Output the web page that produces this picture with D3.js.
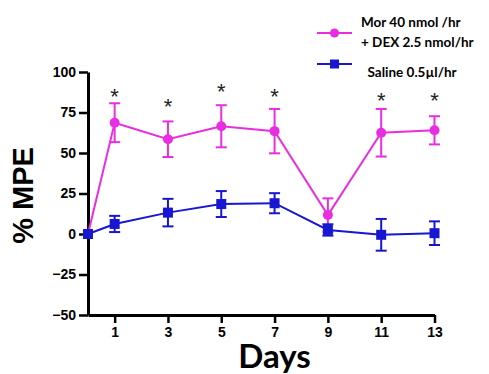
<!DOCTYPE html>
<html>
<head>
<meta charset="utf-8">
<script src="https://cdn.jsdelivr.net/npm/d3@7"></script>
<style>
  html, body { margin: 0; padding: 0; background: #fff; }
  svg { display: block; }
</style>
</head>
<body>
<svg id="chart" width="489" height="374"></svg>
<script>
// ---- data ----
const days = [0, 1, 3, 5, 7, 9, 11, 13];
const morDexMean = [0, 68.7, 58.5, 66.5, 63.5, 11.7, 62.5, 64];
const morDexErr  = [0, 12, 11, 13, 13.7, 10.3, 14.7, 8.7];
const salineMean = [0, 6.2, 13.2, 18.5, 19, 2.5, -0.5, 0.5];
const salineErr  = [0, 5, 8.5, 8, 6.2, 3.5, 9.8, 7.3];
const sigDays    = [1, 3, 5, 7, 11, 13];
const sigLevels  = [87.8, 81.7, 90.9, 87.8, 85.2, 85.2];
const xTicks = [1, 3, 5, 7, 9, 11, 13];
const yTicks = [-50, -25, 0, 25, 50, 75, 100];
const legendLabels = [["Mor 40 nmol /hr", "+ DEX 2.5 nmol/hr"], ["Saline 0.5\u00b5l/hr"]];

const magenta = "#e82ee0";
const blue = "#1717d2";

const svg = d3.select("#chart");
const x = d3.scaleLinear().domain([0, 13]).range([88, 434.5]);
const y = d3.scaleLinear().domain([-50, 100]).range([315, 72]);

// axes
const yAxis = svg.append("g").attr("transform", `translate(${x(0)},0)`)
  .call(d3.axisLeft(y).tickValues(yTicks).tickSize(9).tickSizeOuter(0).tickPadding(3));
const xAxis = svg.append("g").attr("transform", `translate(0,${y(-50)})`)
  .call(d3.axisBottom(x).tickValues(xTicks).tickSize(8).tickSizeOuter(0).tickPadding(4));
[xAxis, yAxis].forEach(g => {
  g.select(".domain").attr("stroke", "#000").attr("stroke-width", 3);
  g.selectAll(".tick line").attr("stroke", "#000").attr("stroke-width", 2.5);
  g.selectAll(".tick text").attr("fill", "#000")
    .style("font-family", "'Liberation Sans', Arial, sans-serif")
    .style("font-weight", "bold").style("font-size", "14px");
});

// axis titles
svg.append("text")
  .attr("transform", `translate(33,${(y(100) + y(-50)) / 2 + 2}) rotate(-90)`)
  .attr("text-anchor", "middle")
  .style("font-family", "'Liberation Sans', Arial, sans-serif")
  .style("font-weight", "bold").style("font-size", "29px")
  .text("% MPE");
svg.append("text")
  .attr("x", x(7)).attr("y", 367.5)
  .attr("text-anchor", "middle")
  .style("font-family", "Lato, 'Open Sans', sans-serif")
  .style("font-weight", "bold").style("font-size", "33px")
  .text("Days");

function drawSeries(mean, err, color, shape) {
  const pts = days.map((d, i) => ({ d, m: mean[i], e: err[i] }));
  const g = svg.append("g");
  const bars = pts.filter(p => p.e > 0);
  g.selectAll("line.v").data(bars).join("line")
    .attr("x1", p => x(p.d)).attr("x2", p => x(p.d))
    .attr("y1", p => y(p.m - p.e)).attr("y2", p => y(p.m + p.e))
    .attr("stroke", color).attr("stroke-width", 2);
  ["top", "bot"].forEach(k => {
    g.selectAll("line." + k).data(bars).join("line")
      .attr("x1", p => x(p.d) - 5.5).attr("x2", p => x(p.d) + 5.5)
      .attr("y1", p => y(k === "top" ? p.m + p.e : p.m - p.e))
      .attr("y2", p => y(k === "top" ? p.m + p.e : p.m - p.e))
      .attr("stroke", color).attr("stroke-width", 2);
  });
  g.append("path").datum(pts)
    .attr("d", d3.line().x(p => x(p.d)).y(p => y(p.m)))
    .attr("fill", "none").attr("stroke", color).attr("stroke-width", 2);
  if (shape === "circle") {
    g.selectAll("circle").data(pts).join("circle")
      .attr("cx", p => x(p.d)).attr("cy", p => y(p.m)).attr("r", 5)
      .attr("fill", color);
  } else {
    g.selectAll("rect").data(pts).join("rect")
      .attr("x", p => x(p.d) - 5).attr("y", p => y(p.m) - 5)
      .attr("width", 10).attr("height", 10).attr("fill", color);
  }
}
drawSeries(morDexMean, morDexErr, magenta, "circle");
drawSeries(salineMean, salineErr, blue, "square");

// significance asterisks
svg.selectAll("text.sig").data(sigDays).join("text")
  .attr("class", "sig")
  .attr("x", d => x(d)).attr("y", (d, i) => y(sigLevels[i]) + 12)
  .attr("text-anchor", "middle")
  .style("font-family", "'Liberation Sans', Arial, sans-serif")
  .style("font-size", "22px").attr("fill", "#222")
  .text("*");

// legend
const lg = svg.append("g").style("font-family", "Lato, 'Open Sans', sans-serif")
  .style("font-weight", "bold").style("font-size", "13.5px");
lg.append("line").attr("x1", 317).attr("x2", 352).attr("y1", 33).attr("y2", 33)
  .attr("stroke", magenta).attr("stroke-width", 2);
lg.append("circle").attr("cx", 334.5).attr("cy", 33).attr("r", 4.5).attr("fill", magenta);
lg.append("text").attr("x", 361).attr("y", 26.5).text(legendLabels[0][0]);
lg.append("text").attr("x", 361).attr("y", 46.5).text(legendLabels[0][1]);
lg.append("line").attr("x1", 317).attr("x2", 352).attr("y1", 64).attr("y2", 64)
  .attr("stroke", blue).attr("stroke-width", 2);
lg.append("rect").attr("x", 330).attr("y", 59.5).attr("width", 9).attr("height", 9).attr("fill", blue);
lg.append("text").attr("x", 367.5).attr("y", 76.5).text(legendLabels[1][0]);
</script>
</body>
</html>
